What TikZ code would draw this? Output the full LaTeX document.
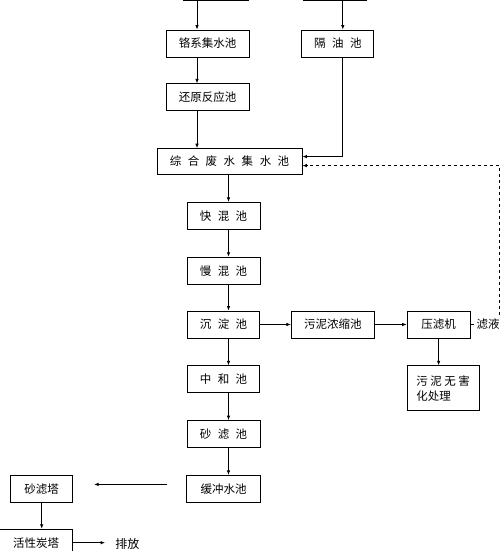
\documentclass[tikz,border=0pt]{standalone}
\usepackage{fontspec}
\setmainfont{Noto Sans CJK SC}
\usetikzlibrary{arrows.meta,positioning}

\newcommand{\sep}{\hspace{6.5pt}}

\begin{document}
\begin{tikzpicture}[
        x=1pt, y=1pt,
        node distance=27pt and 31pt,
        box/.style={draw, line width=0.8pt, minimum height=27pt, inner sep=0pt, align=center, font=\fontsize{11.5}{15}\selectfont},
        txt/.style={inner sep=0pt, font=\fontsize{11.5}{15}\selectfont},
        flow/.style={line width=0.8pt, -{Latex[length=4.5pt,width=3.5pt]}},
        back/.style={flow, dashed}
    ]

    \useasboundingbox (0,0) rectangle (500,551);
    \clip (0,0) rectangle (500,551);

    % Nodes
    \node (gx) [box, minimum width=83pt] at (207.5,507.5) {铬系集水池};
    \node (gy) [box, minimum width=72pt, right=52pt of gx] {隔\sep 油\sep 池};
    \node (t1) [box, minimum width=65pt, above=29pt of gx, xshift=8pt] {};
    \node (t2) [box, minimum width=63pt, above=29pt of gy, xshift=-2.5pt] {};
    \node (hy) [box, minimum width=83pt, below=26pt of gx] {还原反应池};
    \node (zh) [box, minimum width=145pt, minimum height=26pt, below=37pt of hy, xshift=22pt] {综\sep 合\sep 废\sep 水\sep 集\sep 水\sep 池};
    \node (kh) [box, minimum width=73pt, below=of zh, xshift=-6pt] {快\sep 混\sep 池};
    \node (mh) [box, minimum width=73pt, below=of kh] {慢\sep 混\sep 池};
    \node (cd) [box, minimum width=72pt, below=26pt of mh] {沉\sep 淀\sep 池};
    \node (zhe) [box, minimum width=72pt, below=of cd] {中\sep 和\sep 池};
    \node (sl) [box, minimum width=73pt, below=of zhe] {砂\sep 滤\sep 池};
    \node (hc) [box, minimum width=74pt, below=of sl] {缓冲水池};
    \node (nc) [box, minimum width=83pt, right=of cd] {污泥浓缩池};
    \node (yl) [box, minimum width=63pt, right=32pt of nc] {压滤机};
    \node (wn) [box, minimum width=72pt, minimum height=45pt, align=left, below=of yl.south west, anchor=north west] {污\hspace{2.5pt}泥\hspace{2.5pt}无\hspace{2.5pt}害\\化处理};
    \node (ly) [txt, right=6pt of yl] {滤液};
    \node (st) [box, minimum width=62pt, left=113pt of hc] {砂滤塔};
    \node (hx) [box, minimum width=73pt, below=26pt of st.south east, anchor=north east] {活性炭塔};

    % Columns and free ends
    \coordinate (lx) at ([xshift=-10.5pt]gx.center);
    \coordinate (mx) at ([xshift=5pt]kh.center);
    \coordinate (rx) at ([xshift=5pt]gy.center);
    \coordinate (dx) at ([xshift=29pt]yl.east |- ly.north);
    \coordinate (a1) at ([xshift=-19pt,yshift=4.5pt]hc.west);
    \coordinate (a2) at ([xshift=21pt]a1 -| st.east);
    \coordinate (a3) at ([xshift=32pt]hx.east);
    \node (pf) [txt, font=\fontsize{12}{14}\selectfont, right=10pt of a3, yshift=-1.5pt] {排放};

    % Edges
    \draw[flow] (t1.south -| lx) -- (gx.north -| lx);
    \draw[flow] (gx.south -| lx) -- (hy.north -| lx);
    \draw[flow] (hy.south -| lx) -- (zh.north -| lx);
    \draw[flow] (t2.south -| rx) -- (gy.north -| rx);
    \draw[flow] (gy.south -| rx) |- ([yshift=5pt]zh.east);
    \draw[flow] (zh.south -| mx) -- (kh.north -| mx);
    \draw[flow] (kh.south -| mx) -- (mh.north -| mx);
    \draw[flow] (mh.south -| mx) -- (cd.north -| mx);
    \draw[flow] (cd.south -| mx) -- (zhe.north -| mx);
    \draw[flow] (zhe.south -| mx) -- (sl.north -| mx);
    \draw[flow] (sl.south -| mx) -- (hc.north -| mx);
    \draw[flow] (cd) -- (nc);
    \draw[flow] (nc) -- (yl);
    \draw[flow] (yl) -- (wn.north -| yl);
    \draw[line width=0.8pt, dashed] (yl) -- (ly);
    \draw[back] ([yshift=4pt]dx) |- ([yshift=-4pt]zh.east);
    \draw[flow] (a1) -- (a2);
    \draw[flow] (st) -- (hx.north -| st);
    \draw[flow] (hx) -- (a3);

\end{tikzpicture}
\end{document}
